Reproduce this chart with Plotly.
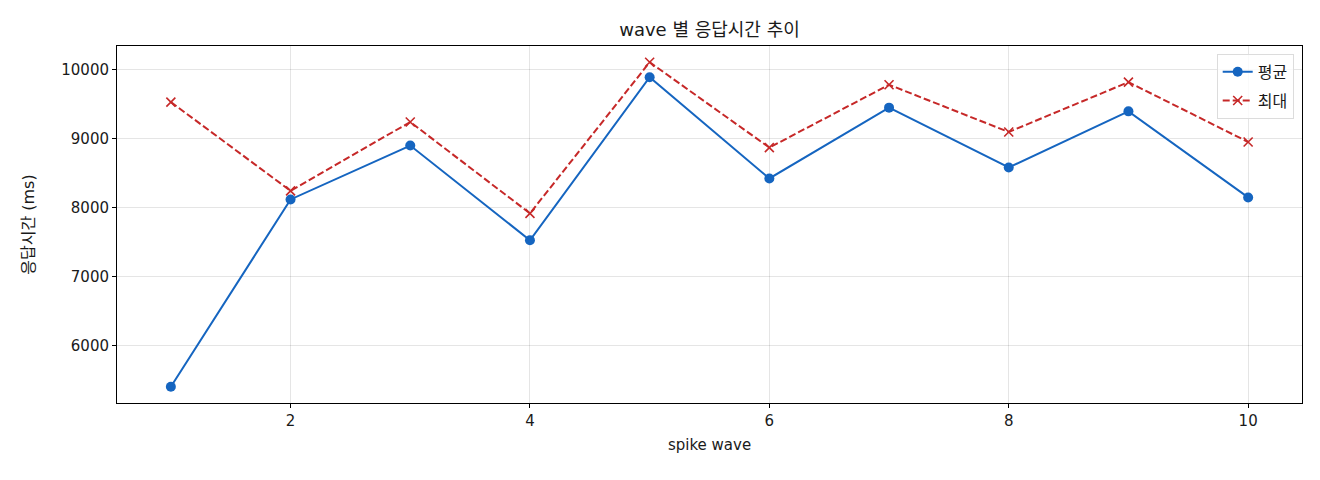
import plotly.graph_objects as go

# wave 별 응답시간 (ms)
waves = [1, 2, 3, 4, 5, 6, 7, 8, 9, 10]
avg_ms = [5403, 8120, 8901, 7528, 9893, 8424, 9451, 8583, 9397, 8149]
max_ms = [9532, 8245, 9243, 7918, 10110, 8872, 9783, 9098, 9821, 8953]

FONT = "DejaVu Sans, Noto Sans CJK KR"
BLUE = "#1565C0"
RED = "#C62828"
TXT = "#1a1a1a"

fig = go.Figure()

fig.add_trace(go.Scatter(
    x=waves, y=avg_ms, name="평균", mode="lines+markers", legendgroup="avg",
    line=dict(color=BLUE, width=2),
    marker=dict(symbol="circle", size=10, color=BLUE),
))
fig.add_trace(go.Scatter(
    x=waves, y=max_ms, name="최대", mode="lines+markers", legendgroup="max",
    line=dict(color=RED, width=2, dash="7px,3px"),
    marker=dict(symbol="x-thin", size=9, color=RED,
                line=dict(color=RED, width=1.6)),
))

axis_common = dict(
    showline=True, linecolor="black", linewidth=1, mirror=True,
    ticks="outside", ticklen=4, tickcolor="black",
    showgrid=True, gridcolor="rgba(0,0,0,0.1)", gridwidth=1,
    zeroline=False,
    tickfont=dict(family=FONT, size=15, color=TXT),
)

fig.update_xaxes(
    range=[0.55, 10.45], tickvals=[2, 4, 6, 8, 10],
    title=dict(text="spike wave", font=dict(family=FONT, size=15, color=TXT),
               standoff=10),
    **axis_common,
)
fig.update_yaxes(
    range=[5168, 10345], tickvals=[6000, 7000, 8000, 9000, 10000],
    tickformat="d",
    title=dict(text="응답시간 (ms)", font=dict(family=FONT, size=16, color=TXT),
               standoff=22),
    **axis_common,
)

# 브라우저 body 여백(8px)만큼 보정
fig.update_layout(
    width=1320, height=480,
    margin=dict(l=109, r=26, t=38, b=85),
    paper_bgcolor="white", plot_bgcolor="white",
    font=dict(family=FONT, size=15, color=TXT),
    title=dict(text="wave 별 응답시간 추이", x=0.5, xref="paper", xanchor="center",
               y=0.954, yanchor="middle",
               font=dict(family=FONT, size=18, color=TXT)),
    legend=dict(x=0.993, y=0.978, xanchor="right", yanchor="top",
                bgcolor="rgba(255,255,255,0.8)", bordercolor="#dcdcdc",
                borderwidth=1, tracegroupgap=5,
                font=dict(family=FONT, size=16, color=TXT)),
    showlegend=True,
)

fig.write_html("out.html")
